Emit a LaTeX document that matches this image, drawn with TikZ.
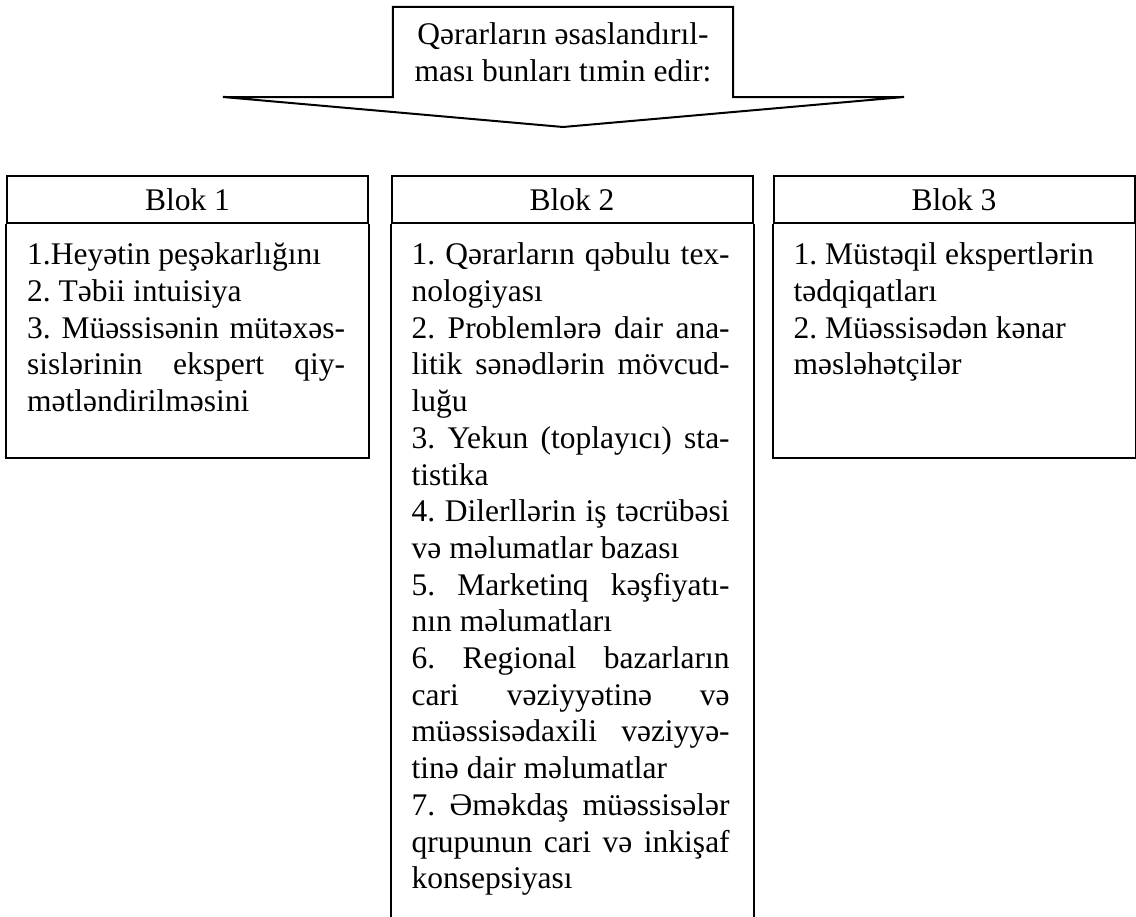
\documentclass[tikz,border=0pt]{standalone}
\usepackage{fontspec}
\setmainfont{Liberation Serif}
\usepackage{tikz}
\usetikzlibrary{positioning}

\newcommand{\blkfont}{\fontsize{31.5}{36.7}\selectfont\frenchspacing\hyphenpenalty=10000\tolerance=9999}

\tikzset{
  boxline/.style={draw,line width=2pt},
  blkhead/.style={boxline,minimum width=361pt,minimum height=47pt,inner sep=0pt,font=\blkfont},
  blktext/.style={text width=318pt,align=justify,inner sep=0pt,font=\blkfont},
}

\begin{document}
\begin{tikzpicture}[x=1pt,y=-1pt]
\useasboundingbox (0,0) rectangle (1136,917);

% top arrow
\node[minimum width=340pt,minimum height=90pt,inner sep=0pt,align=center,font=\blkfont] (top) at (563,52) {Qərarların əsaslandırıl-\\ması bunları tımin edir:};
\coordinate (wl) at (223,97);
\coordinate (wr) at (904,97);
\coordinate (tip) at (563,127);
\draw[line width=2pt] (top.south west) -- (top.north west) -- (top.north east) -- (top.south east) -- (wr) -- (tip) -- (wl) -- cycle;

% block heads
\node[blkhead] (h1) at (187.5,199.5) {Blok 1};
\node[blkhead] (h2) at (572,199.5) {Blok 2};
\node[blkhead] (h3) at (954,199.5) {Blok 3};

% block bodies (Blok 2 runs off the page)
\draw[boxline] (h1.south west) -- ++(0,234) -| (h1.south east);
\draw[boxline] (h3.south west) -- ++(0,234) -| (h3.south east);
\draw[boxline] (h2.south west) -- ++(0,700);
\draw[boxline] (h2.south east) -- ++(0,700);

% lists
\node[blktext,below right=15pt and 21pt of h1.south west] (t1) {\strut 1.Heyətin peşəkarlığını\par
2. Təbii intuisiya\par
3. Müəssisənin mütəxəs-\linebreak{}sislərinin ekspert qiy-\linebreak{}mətləndirilməsini\par};

\node[blktext,below right=15pt and 21pt of h2.south west] (t2) {\strut 1. Qərarların qəbulu tex-\linebreak{}nologiyası\par
2. Problemlərə dair ana-\linebreak{}litik sənədlərin mövcud-\linebreak{}luğu\par
3. Yekun (toplayıcı) sta-\linebreak{}tistika\par
4. Dilerllərin iş təcrübəsi\linebreak{}və məlumatlar bazası\par
5. Marketinq kəşfiyatı-\linebreak{}nın məlumatları\par
6. Regional bazarların\linebreak{}cari vəziyyətinə və\linebreak{}müəssisədaxili vəziyyə-\linebreak{}tinə dair məlumatlar\par
7. Əməkdaş müəssisələr\linebreak{}qrupunun cari və inkişaf\linebreak{}konsepsiyası\par};

\node[blktext,below right=15pt and 21pt of h3.south west] (t3) {\strut 1. Müstəqil ekspertlərin\par
tədqiqatları\par
2. Müəssisədən kənar\par
məsləhətçilər\par};
\end{tikzpicture}
\end{document}
